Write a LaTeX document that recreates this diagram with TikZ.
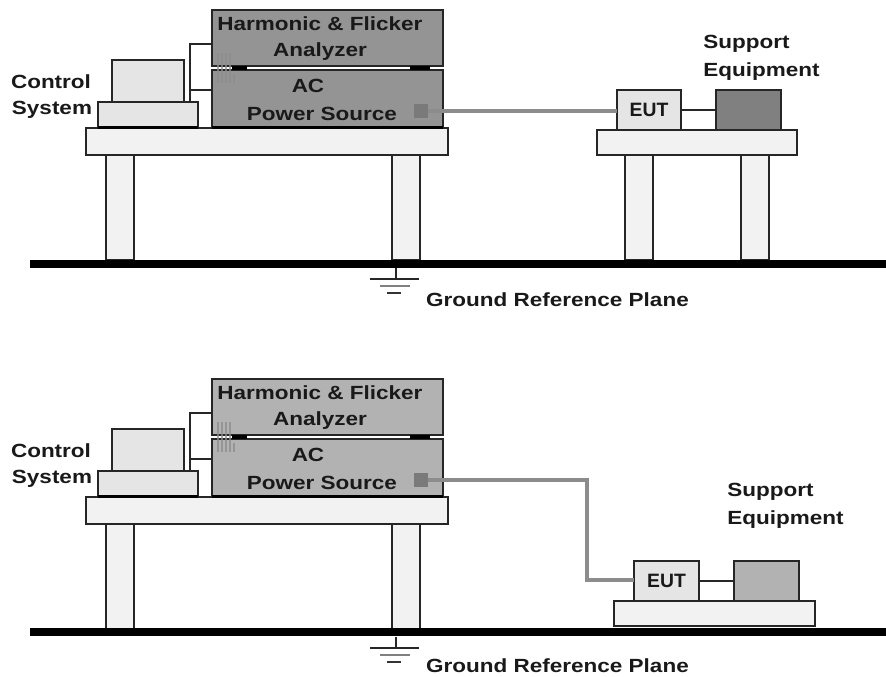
\documentclass[tikz,border=0pt]{standalone}
\usepackage{fontspec}
\setmainfont[FakeStretch=1.18]{Liberation Sans}
\newfontfamily\eutfont[FakeStretch=1.0]{Liberation Sans}
\newcommand{\bx}[6]{%
  \pgfmathsetmacro{\bxcx}{(#2+#4)/2}\pgfmathsetmacro{\bxcy}{(#3+#5)/2}%
  \pgfmathsetmacro{\bxw}{(#4-#2)*0.75}\pgfmathsetmacro{\bxh}{(#5-#3)*0.75}%
  \node[box,#6,minimum width=\bxw pt,minimum height=\bxh pt] (#1) at (\bxcx,\bxcy) {};}
\newcommand{\rigL}[4]{%
 \begin{scope}[shift={(0,#2)}]
  \bx{#1legA}{106}{155}{134}{260}{tablefill}
  \bx{#1legB}{392}{155}{420}{260}{tablefill}
  \bx{#1top}{86}{128}{448}{155}{tablefill}
  \bx{#1mon}{112}{60}{184}{102}{panel}
  \bx{#1base}{98}{102}{198}{127}{panel}
  \bx{#1ana}{212}{10}{443}{66}{fill=#3}
  \bx{#1psu}{212}{70}{443}{127}{fill=#3}
  \fill[black] (212,126) rectangle (443,128.5);
  \fill[black] (98,126) rectangle (198,128.5);
  \fill[black] (232,66) rectangle (247,70);
  \fill[black] (410,66) rectangle (430,70);
  \coordinate (#1j1) at (190,44);
  \coordinate (#1j2) at (190,90);
  \draw[wire] (#1ana.west |- #1j1) -- (#1j1) -- (#1j1 |- #1base.north);
  \draw[wire] (#1j2) -- (#1psu.west |- #1j2);
  \foreach \xx in {218,222,226,230}{\draw[hatch] (\xx,53) -- (\xx,83);}
  \draw[hatch] (234,74) -- (234,83);
  \node[lbl] (#1t1) at (320,24) {Harmonic \& Flicker};
  \node[lbl] (#1t2) at (320,52) {Analyzer};
  \node[lbl] (#1t3) at (308,86) {AC};
  \node[lbl] (#1t4) at (322,114) {Power Source};
  \node[lbl] (#1t5) at (51,82) {Control};
  \node[lbl] (#1t6) at (52,110) {System};
  \node[fill=black!52,minimum size=10.5pt,inner sep=0pt] (#1port) at (421,111) {};
  \coordinate (#1g1) at (396,268);
  \coordinate (#1g2) at (396,279);
  \coordinate (#1bar1a) at (370,279);
  \coordinate (#1bar1b) at (419,279);
  \coordinate (#1bar2a) at (380,286);
  \coordinate (#1bar2b) at (410,286);
  \coordinate (#1bar3a) at (387,293);
  \coordinate (#1bar3b) at (401,293);
  \draw[wire] (#1g1) -- (#1g2);
  \draw[wire] (#1bar1a) -- (#1bar1b);
  \draw[line width=2.2pt,black!50] (#1bar2a) -- (#1bar2b);
  \draw[line width=.9pt,black!80] (#1bar3a) -- (#1bar3b);
  \node[lbl] (#1gt) at (557.5,#4) {Ground Reference Plane};
 \end{scope}}
\tikzset{
  x=0.75pt,y=-0.75pt,
  box/.style={draw=black!85,line width=1.3pt,inner sep=0pt,outer sep=0pt},
  tablefill/.style={fill=black!5},
  panel/.style={fill=black!10},
  wire/.style={draw=black!85,line width=1.3pt},
  cable/.style={draw=black!45,line width=2.3pt},
  hatch/.style={draw=black!45,line width=1pt,opacity=.75},
  plane/.style={draw=black,line width=6pt},
  lbl/.style={font=\bfseries\fontsize{14.3}{16}\selectfont,text=black!90,inner sep=0pt},
  eutlbl/.style={font=\eutfont\bfseries\fontsize{14.5}{16}\selectfont,text=black!90,inner sep=0pt}
}
\begin{document}
\begin{tikzpicture}
\useasboundingbox (0,0) rectangle (886,676);
% upper bench
\rigL{a}{0}{black!42}{300}
\bx{alegC}{625}{155}{653}{260}{tablefill}
\bx{alegD}{741}{155}{769}{260}{tablefill}
\bx{atopR}{597}{130}{797}{155}{tablefill}
\bx{aeut}{617}{90}{681}{130}{panel}
\bx{asup}{716}{90}{781}{130}{fill=black!50}
\node[eutlbl] (aeutT) at (aeut) {EUT};
\draw[wire] (aeut) -- (asup);
\draw[cable] (aport) -- (aeut.west |- aport);
\node[lbl,anchor=west] (as1) at (703,44) {Support};
\node[lbl,anchor=west] (as2) at (703,72) {Equipment};
\coordinate (agL) at (30,264);
\coordinate (agR) at (886,264);
\draw[plane] (agL) -- (agR);
% lower bench
\rigL{b}{369}{black!30}{297}
\bx{bsup}{734}{561}{799}{601}{fill=black!30}
\bx{beut}{634}{561}{699}{601}{panel}
\bx{btop}{614}{601}{815}{626}{tablefill}
\node[eutlbl] (beutT) at (beut) {EUT};
\draw[wire] (beut) -- (bsup);
\coordinate (bc) at (587,480);
\coordinate (bd) at (587,580);
\draw[cable] (bport) -- (bc) -- (bd) -- (beut.west |- bd);
\node[lbl,anchor=west] (bs1) at (727,492) {Support};
\node[lbl,anchor=west] (bs2) at (727,520) {Equipment};
\coordinate (bgL) at (30,632);
\coordinate (bgR) at (886,632);
\draw[plane] (bgL) -- (bgR);
\end{tikzpicture}
\end{document}
